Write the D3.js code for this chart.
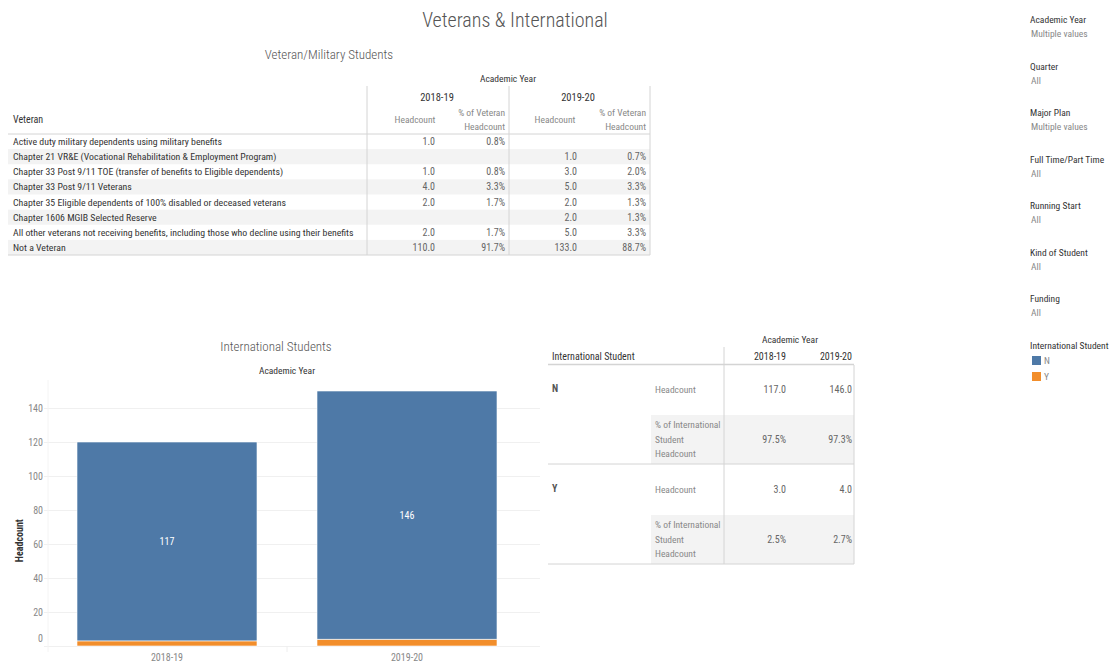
<!DOCTYPE html>
<html>
<head>
<meta charset="utf-8">
<script src="https://cdn.jsdelivr.net/npm/d3@7"></script>
<style>
  body { margin: 0; background: #fff; }
  svg text { font-family: Roboto, "Liberation Sans", sans-serif; font-stretch: condensed; }
</style>
</head>
<body>
<script>
// data
var years = ["2018-19", "2019-20"];
var veteranCats = [
  "Active duty military dependents using military benefits",
  "Chapter 21 VR&E (Vocational Rehabilitation & Employment Program)",
  "Chapter 33 Post 9/11 TOE (transfer of benefits to Eligible dependents)",
  "Chapter 33 Post 9/11 Veterans",
  "Chapter 35 Eligible dependents of 100% disabled or deceased veterans",
  "Chapter 1606 MGIB Selected Reserve",
  "All other veterans not receiving benefits, including those who decline using their benefits",
  "Not a Veteran"
];
var vetHead1819 = [1, null, 1, 4, 2, null, 2, 110];
var vetPct1819  = [0.8, null, 0.8, 3.3, 1.7, null, 1.7, 91.7];
var vetHead1920 = [null, 1, 3, 5, 2, 2, 5, 133];
var vetPct1920  = [null, 0.7, 2.0, 3.3, 1.3, 1.3, 3.3, 88.7];

var intlKeys = ["N", "Y"];
var intlN = [117, 146];
var intlY = [3, 4];
var intlNPct = [97.5, 97.3];
var intlYPct = [2.5, 2.7];
var yTicks = [0, 20, 40, 60, 80, 100, 120, 140];

var filters = [
  ["Academic Year", "Multiple values"],
  ["Quarter", "All"],
  ["Major Plan", "Multiple values"],
  ["Full Time/Part Time", "All"],
  ["Running Start", "All"],
  ["Kind of Student", "All"],
  ["Funding", "All"]
];

var colors = {N: "#4e79a7", Y: "#f28e2b"};
var dark = "#333", mid = "#666", light = "#888", rule = "#d4d4d4", shade = "#f3f3f3";

var svg = d3.select("body").append("svg")
    .attr("width", 1115)
    .attr("height", 662);

svg.append("text")
    .attr("x", 515).attr("y", 27)
    .attr("text-anchor", "middle")
    .attr("font-size", 20)
    .attr("font-weight", 300)
    .attr("fill", "#555")
    .text("Veterans & International");

// ---------- veteran table ----------
svg.append("text")
    .attr("x", 329).attr("y", 59)
    .attr("text-anchor", "middle")
    .attr("font-size", 13)
    .attr("font-weight", 300)
    .attr("fill", "#555")
    .text("Veteran/Military Students");

var vt = svg.append("g").attr("id", "vetTable");
var rowY = d3.scaleBand().domain(d3.range(veteranCats.length)).range([134, 255]);
var tLeft = 8, tRight = 650, c1 = 367, c2 = 509;

vt.selectAll(".shade")
    .data(d3.range(veteranCats.length).filter(function(i) { return i % 2 == 1; }))
    .enter().append("rect")
    .attr("x", tLeft).attr("width", tRight - tLeft)
    .attr("y", function(d) { return rowY(d); })
    .attr("height", rowY.bandwidth())
    .attr("fill", shade);

vt.append("text").attr("x", 508).attr("y", 82).attr("text-anchor", "middle")
    .attr("font-size", 9.5).attr("fill", dark).text("Academic Year");
[437, 578].forEach(function(x, i) {
  vt.append("text").attr("x", x).attr("y", 101).attr("text-anchor", "middle")
      .attr("font-size", 10.5).attr("fill", dark).text(years[i]);
});
vt.append("text").attr("x", 13).attr("y", 123).attr("font-size", 10)
    .attr("fill", dark).text("Veteran");
[[415, 505], [555, 646]].forEach(function(p) {
  vt.append("text").attr("x", p[0]).attr("y", 123).attr("text-anchor", "middle")
      .attr("font-size", 9.5).attr("fill", light).text("Headcount");
  vt.append("text").attr("x", p[1]).attr("y", 116).attr("text-anchor", "end")
      .attr("font-size", 9.5).attr("fill", light).text("% of Veteran");
  vt.append("text").attr("x", p[1]).attr("y", 130).attr("text-anchor", "end")
      .attr("font-size", 9.5).attr("fill", light).text("Headcount");
});

vt.append("line").attr("x1", tLeft).attr("x2", tRight).attr("y1", 134).attr("y2", 134)
    .attr("stroke", rule);
vt.append("line").attr("x1", tLeft).attr("x2", tRight).attr("y1", 255).attr("y2", 255)
    .attr("stroke", rule);
[c1, c2, tRight].forEach(function(x) {
  vt.append("line").attr("x1", x).attr("x2", x).attr("y1", 86).attr("y2", 255)
      .attr("stroke", rule);
});

vt.selectAll(".vcat")
    .data(veteranCats)
    .enter().append("text")
    .attr("x", 13)
    .attr("y", function(d, i) { return rowY(i) + rowY.bandwidth() / 2 + 3.5; })
    .attr("font-size", 9.8)
    .attr("fill", dark)
    .text(function(d) { return d; });

var vetCols = [[vetHead1819, 435, false], [vetPct1819, 505, true],
               [vetHead1920, 577, false], [vetPct1920, 646, true]];
vetCols.forEach(function(col) {
  vt.append("g").selectAll("text")
      .data(col[0])
      .enter().append("text")
      .attr("x", col[1])
      .attr("y", function(d, i) { return rowY(i) + rowY.bandwidth() / 2 + 3.5; })
      .attr("text-anchor", "end")
      .attr("font-size", 10)
      .attr("fill", mid)
      .text(function(d) { return d == null ? "" : (col[2] ? d.toFixed(1) + "%" : d.toFixed(1)); });
});

// ---------- bar chart ----------
svg.append("text")
    .attr("x", 276).attr("y", 351)
    .attr("text-anchor", "middle")
    .attr("font-size", 13)
    .attr("font-weight", 300)
    .attr("fill", "#555")
    .text("International Students");

var chart = svg.append("g").attr("id", "barChart");
var xBar = d3.scaleBand().domain(years).range([47, 527]).paddingInner(0.25).paddingOuter(0.125);
var yBar = d3.scaleLinear().domain([0, 140]).range([646, 408]);

chart.append("text").attr("x", 287).attr("y", 374).attr("text-anchor", "middle")
    .attr("font-size", 9.5).attr("fill", dark).text("Academic Year");

chart.selectAll(".grid")
    .data(yTicks)
    .enter().append("line")
    .attr("x1", 44).attr("x2", 540)
    .attr("y1", function(d) { return yBar(d) + 0.5; })
    .attr("y2", function(d) { return yBar(d) + 0.5; })
    .attr("stroke", d3.rgb(240, 240, 240));
chart.append("line").attr("x1", 287).attr("x2", 287).attr("y1", 646).attr("y2", 652)
    .attr("stroke", "#eee");
chart.append("line").attr("x1", 48).attr("x2", 48).attr("y1", 380).attr("y2", 652)
    .attr("stroke", "#f4f4f4");

chart.selectAll(".ytick")
    .data(yTicks)
    .enter().append("text")
    .attr("x", 43)
    .attr("y", function(d) { return d == 0 ? yBar(d) - 4 : yBar(d) + 4; })
    .attr("text-anchor", "end")
    .attr("font-size", 10)
    .attr("fill", light)
    .text(function(d) { return d; });

chart.append("text")
    .attr("transform", "translate(23," + yBar(62) + ") rotate(-90)")
    .attr("text-anchor", "middle")
    .attr("font-size", 10)
    .attr("font-weight", "bold")
    .attr("fill", dark)
    .text("Headcount");

var stackData = years.map(function(y, i) { return {year: y, Y: intlY[i], N: intlN[i]}; });
var series = d3.stack().keys(["Y", "N"])(stackData);

chart.selectAll(".series")
    .data(series)
    .enter().append("g")
    .attr("fill", function(d) { return colors[d.key]; })
    .selectAll("rect")
    .data(function(d) { return d; })
    .enter().append("rect")
    .attr("x", function(d) { return xBar(d.data.year); })
    .attr("y", function(d) { return yBar(d[1]); })
    .attr("width", xBar.bandwidth())
    .attr("height", function(d) { return yBar(d[0]) - yBar(d[1]); })
    .attr("stroke", "#fff")
    .attr("stroke-width", 0.6);

chart.selectAll(".barLabel")
    .data(series[1])
    .enter().append("text")
    .attr("x", function(d) { return xBar(d.data.year) + xBar.bandwidth() / 2; })
    .attr("y", function(d) { return yBar((d[0] + d[1]) / 2) + 4; })
    .attr("text-anchor", "middle")
    .attr("font-size", 10)
    .attr("fill", "#fff")
    .text(function(d) { return d.data.N; });

chart.selectAll(".xlab")
    .data(years)
    .enter().append("text")
    .attr("x", function(d) { return xBar(d) + xBar.bandwidth() / 2; })
    .attr("y", 661)
    .attr("text-anchor", "middle")
    .attr("font-size", 10)
    .attr("fill", light)
    .text(function(d) { return d; });

// ---------- international table ----------
var it = svg.append("g").attr("id", "intlTable");
var iLeft = 548, iRight = 854, iDiv = 724, mLeft = 651;
var colX = [786, 852];

it.append("text").attr("x", 790).attr("y", 343).attr("text-anchor", "middle")
    .attr("font-size", 9.5).attr("fill", dark).text("Academic Year");
it.append("text").attr("x", 552).attr("y", 360).attr("font-size", 10)
    .attr("fill", dark).text("International Student");
years.forEach(function(y, i) {
  it.append("text").attr("x", colX[i]).attr("y", 360).attr("text-anchor", "end")
      .attr("font-size", 10).attr("fill", dark).text(y);
});

var blocks = [[intlN, intlNPct], [intlY, intlYPct]];
var blockTop = [365, 465], blockH = 99;
blocks.forEach(function(b, k) {
  var top = blockTop[k];
  it.append("rect").attr("x", mLeft).attr("y", top + 50).attr("width", iRight - mLeft)
      .attr("height", 49).attr("fill", shade);
  it.append("text").attr("x", 552).attr("y", top + 27).attr("font-size", 10)
      .attr("font-weight", "bold").attr("fill", "#555").text(intlKeys[k]);
  it.append("text").attr("x", 655).attr("y", top + 28).attr("font-size", 9.5)
      .attr("fill", light).text("Headcount");
  ["% of International", "Student", "Headcount"].forEach(function(t, j) {
    it.append("text").attr("x", 655).attr("y", top + 63 + j * 14.5).attr("font-size", 9.5)
        .attr("fill", light).text(t);
  });
  years.forEach(function(y, i) {
    it.append("text").attr("x", colX[i]).attr("y", top + 28).attr("text-anchor", "end")
        .attr("font-size", 10).attr("fill", mid).text(b[0][i].toFixed(1));
    it.append("text").attr("x", colX[i]).attr("y", top + 78).attr("text-anchor", "end")
        .attr("font-size", 10).attr("fill", mid).text(b[1][i].toFixed(1) + "%");
  });
  it.append("line").attr("x1", iLeft).attr("x2", iRight)
      .attr("y1", top + blockH).attr("y2", top + blockH).attr("stroke", rule);
});
it.append("line").attr("x1", iLeft).attr("x2", iRight).attr("y1", 364.5).attr("y2", 364.5)
    .attr("stroke", rule).attr("stroke-width", 1.5);
it.append("line").attr("x1", iDiv).attr("x2", iDiv).attr("y1", 347).attr("y2", 564)
    .attr("stroke", rule);
it.append("line").attr("x1", iRight).attr("x2", iRight).attr("y1", 365).attr("y2", 564)
    .attr("stroke", rule);

// ---------- filter panel ----------
var fp = svg.append("g").attr("id", "filters");
fp.selectAll(".ft")
    .data(filters)
    .enter().append("text")
    .attr("x", 1030)
    .attr("y", function(d, i) { return 23 + i * 46.5; })
    .attr("font-size", 9.5)
    .attr("fill", dark)
    .text(function(d) { return d[0]; });
fp.selectAll(".fv")
    .data(filters)
    .enter().append("text")
    .attr("x", 1031)
    .attr("y", function(d, i) { return 37 + i * 46.5; })
    .attr("font-size", 9.5)
    .attr("fill", light)
    .text(function(d) { return d[1]; });
fp.append("text").attr("x", 1030).attr("y", 349).attr("font-size", 9.5)
    .attr("fill", dark).text("International Student");
intlKeys.forEach(function(k, i) {
  fp.append("rect").attr("x", 1032).attr("y", 356 + i * 16).attr("width", 9).attr("height", 9)
      .attr("fill", colors[k]);
  fp.append("text").attr("x", 1044).attr("y", 364 + i * 16).attr("font-size", 9.5)
      .attr("fill", light).text(k);
});
</script>
</body>
</html>
